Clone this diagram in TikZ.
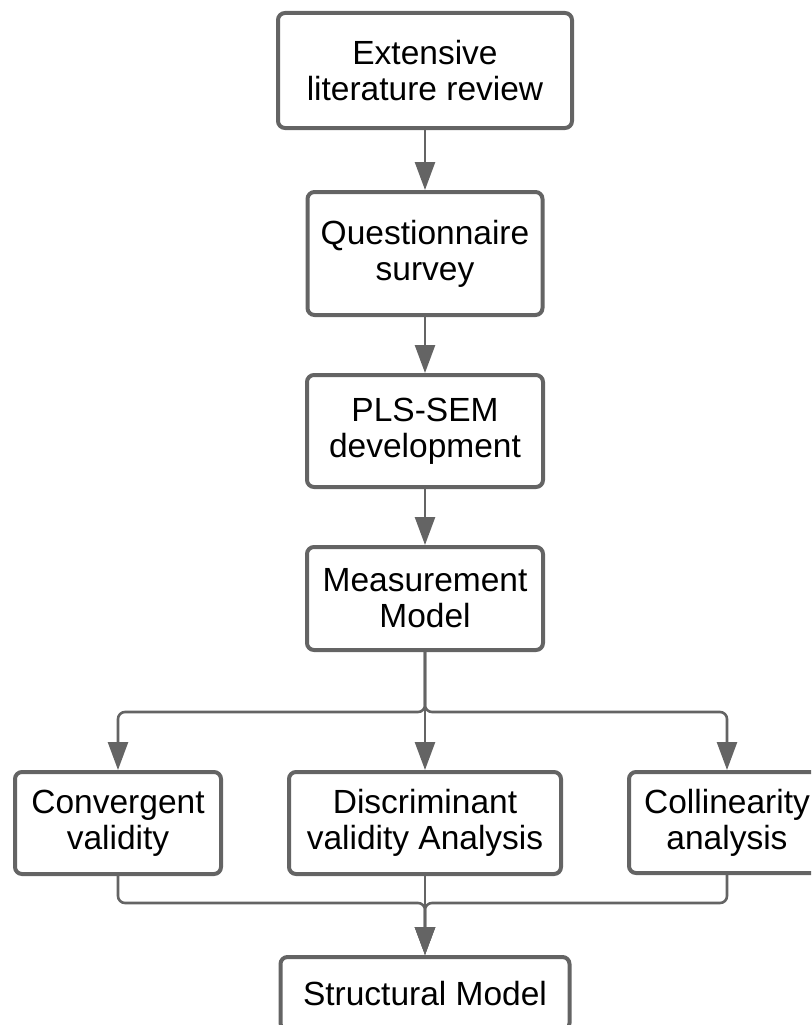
\documentclass[tikz,border=0pt]{standalone}
\usepackage{fontspec}
\setmainfont{Liberation Sans}
\usetikzlibrary{arrows.meta}
\definecolor{flowgray}{RGB}{100,100,100}
\tikzset{
  stepbox/.style={draw=flowgray,line width=4pt,rounded corners=7pt,fill=white,
    align=center,inner sep=0pt,font=\fontsize{33.5}{36}\selectfont},
  flow/.style={draw=flowgray,line width=2.6pt,rounded corners=7pt,
    -{Triangle[length=28pt,width=20pt]}}
}

\begin{document}
\begin{tikzpicture}[x=1pt,y=-1pt]
  \clip (0,0) rectangle (811,1025);
  % main column
  \node[stepbox,minimum width=294pt,minimum height=115pt] (lit) at (425,70.5) {Extensive\\literature review};
  \node[stepbox,minimum width=235pt,minimum height=123pt] (quest) at (425,253.5) {Questionnaire\\survey};
  \node[stepbox,minimum width=236pt,minimum height=112pt] (pls) at (425,431) {PLS-SEM\\development};
  \node[stepbox,minimum width=236pt,minimum height=103pt] (meas) at (425,598.5) {Measurement\\Model};
  % checks
  \node[stepbox,minimum width=206pt,minimum height=102pt] (conv) at (118,823) {Convergent\\validity};
  \node[stepbox,minimum width=272pt,minimum height=102pt] (disc) at (425,823) {Discriminant\\validity Analysis};
  \node[stepbox,minimum width=196pt,minimum height=101pt] (coll) at (727,822.5) {Collinearity\\analysis};
  \node[stepbox,minimum width=289pt,minimum height=73pt] (struct) at (425,993.5) {Structural Model};
  \coordinate (split) at (425,712);
  \coordinate (merge) at (425,903);

  \draw[flow] (lit) -- (quest);
  \draw[flow] (quest) -- (pls);
  \draw[flow] (pls) -- (meas);
  \draw[flow] (meas.south) -- (split) -| (conv.north);
  \draw[flow] (meas) -- (disc);
  \draw[flow] (meas.south) -- (split) -| (coll.north);
  \draw[flow] (conv.south) |- (merge) -- (struct.north);
  \draw[flow] (disc) -- (struct);
  \draw[flow] (coll.south) |- (merge) -- (struct.north);
\end{tikzpicture}
\end{document}
